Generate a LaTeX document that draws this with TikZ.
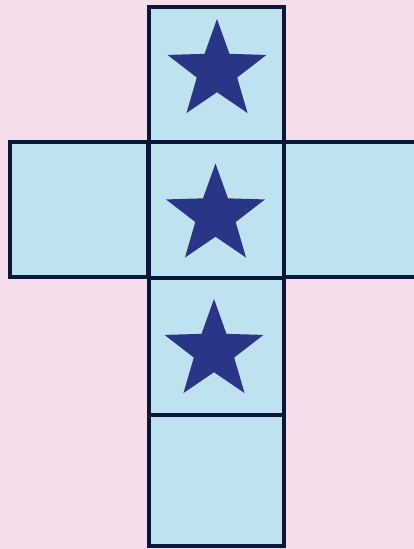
\documentclass[tikz,border=0pt]{standalone}
\usetikzlibrary{shapes.geometric}
\definecolor{bgpink}{HTML}{F4DEEC}
\definecolor{facefill}{HTML}{BEE2F0}
\definecolor{starblue}{HTML}{2B3585}
\definecolor{edgeline}{HTML}{0C1638}

\begin{document}
\begin{tikzpicture}[
        x=1pt, y=-1pt,
        face/.style     = {rectangle, draw=edgeline, fill=facefill, line width=3.2pt,
                           minimum width=135pt, minimum height=135pt, inner sep=0pt},
        starmark/.style = {star, star points=5, star point ratio=2.45,
                           fill=starblue, minimum size=104pt, inner sep=0pt}
    ]
        \fill[bgpink] (0,0) rectangle (414,549);
        \useasboundingbox (0,0) rectangle (414,549);
        % side faces
        \node[face, minimum width=138pt] (left)  at (79,209.5)  {};
        \node[face, minimum width=136pt] (right) at (352,209.5) {};
        % column of faces
        \node[face]                      (top)    at (216.5,74.5)  {};
        \node[face, minimum height=136pt] (middle) at (216.5,210)   {};
        \node[face, minimum height=137pt] (lower)  at (216.5,346.5) {};
        \node[face, minimum height=131pt] (bottom) at (216.5,480.5) {};
        % stars
        \node[starmark] (startop)    at (217,71)      {};
        \node[starmark] (starmiddle) at (215.5,215.5) {};
        \node[starmark] (starlower)  at (214,351)     {};
    \end{tikzpicture}
\end{document}
